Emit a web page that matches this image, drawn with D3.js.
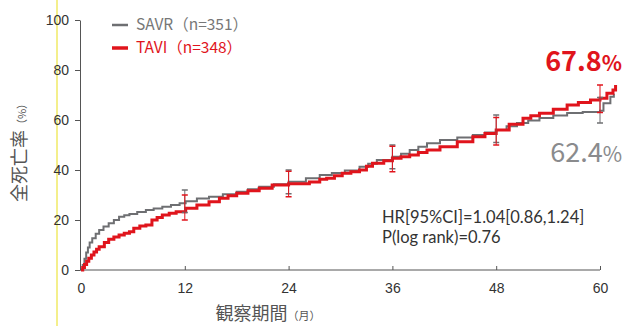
<!DOCTYPE html>
<html>
<head>
<meta charset="utf-8">
<script src="https://cdn.jsdelivr.net/npm/d3@7"></script>
<style>
  body { margin: 0; background: #fff; }
  svg { display: block; font-family: "Noto Sans CJK JP", "Noto Sans", sans-serif; }
  .axis path, .axis line { stroke: #555; stroke-width: 1; }
  .axis text { fill: #333; font-size: 14px; }
</style>
</head>
<body>
<svg width="625" height="326"></svg>
<script>
// Kaplan-Meier curves (months, %)
var savrMonths = [0, 0.2, 0.4, 0.6, 0.8, 1.0, 1.3, 1.7, 2.1, 2.6, 3.2, 3.8, 4.4, 5.0, 5.6, 6.5, 7.5, 8.4, 9.4, 10.4, 11.4, 12.1, 13.4, 14.8, 16.4, 18, 19.3, 20.6, 22.3, 24, 26, 27.6, 29, 30.5, 32.2, 33.2, 34.2, 36, 37, 38, 39, 40, 41.5, 43.5, 45.3, 46.7, 48, 49.2, 50.4, 51.7, 53, 54.6, 56.2, 58, 60, 60.4, 61.2, 61.6];
var savrValues = [0, 2, 4.5, 7, 9, 11, 12.7, 14.5, 16, 17.4, 18.7, 20, 21.3, 21.9, 22.4, 23.2, 24, 24.6, 25.3, 26, 26.7, 27.5, 28.6, 29.3, 30.3, 31.3, 32.3, 33.3, 34.3, 35.3, 36.7, 38, 38.8, 39.8, 41.3, 42.5, 44, 45.3, 46.5, 48, 49.3, 50.7, 52, 53, 54, 55, 56, 57.5, 58.8, 59.8, 60.8, 61.8, 62.8, 63.2, 63.7, 66.7, 69.3, 70.5];

var taviMonths = [0, 0.2, 0.4, 0.65, 0.9, 1.2, 1.5, 1.8, 2.1, 2.7, 3.2, 3.8, 4.4, 5.0, 5.6, 6.1, 6.8, 7.5, 8.2, 8.8, 9.4, 10.2, 11, 12.1, 13.4, 14.8, 16, 17, 18, 19.3, 20.6, 22.1, 24, 26.4, 27.6, 28.4, 29.3, 30.2, 31.2, 32.2, 33, 33.7, 35, 36, 37, 38, 39, 40, 41.5, 43.5, 45.3, 46.7, 48, 49.5, 51.1, 52, 53, 54.6, 56.2, 57.5, 58.9, 60, 60.8, 61.5, 61.8];
var taviValues = [0, 1, 2.2, 3.5, 4.7, 6, 7.2, 8.3, 9.3, 11, 12.3, 13.2, 14, 14.7, 15.3, 16.7, 17.6, 18, 20, 21, 22, 22.7, 23.3, 24.7, 26, 27.3, 28.7, 29.7, 30.7, 31.7, 32.7, 34, 34.5, 35.2, 36.3, 36.7, 37.7, 38.7, 39.3, 40, 41.5, 42.7, 43.7, 44.7, 45.3, 46, 47, 48, 49.3, 51.3, 53.3, 54.6, 56, 58.3, 60.7, 61.7, 62.7, 64.3, 66, 67, 68, 68.7, 70.7, 72, 74];

// confidence interval bars
var ciMonths = [12, 24, 36, 48, 60];
var savrLo = [23, 30.5, 40.5, 51, 58.8];
var savrHi = [32, 40, 50, 62, 69];
var taviLo = [20, 29.3, 39.3, 50, 63];
var taviHi = [30, 39.5, 49.5, 61, 74];

var xTicks = [0, 12, 24, 36, 48, 60];
var yTicks = [0, 20, 40, 60, 80, 100];

var legendLabels = ["SAVR（n=351）", "TAVI（n=348）"];
var endLabels = ["62.4", "67.8"];
var statLines = ["HR[95%CI]=1.04[0.86,1.24]", "P(log rank)=0.76"];

var grey = "#6e6f72", red = "#e0141c";

var svg = d3.select("svg");

// scan artefact: faint yellow rule at left
svg.append("line")
    .attr("x1", 57).attr("x2", 57).attr("y1", 0).attr("y2", 326)
    .attr("stroke", "#f4ef8c").attr("stroke-width", 2);

var xScale = d3.scaleLinear().domain([0, 60]).range([81, 600]),
    yScale = d3.scaleLinear().domain([0, 100]).range([270, 20]);

// axes
var xAxis = d3.axisBottom(xScale).tickValues(xTicks).tickSize(-4).tickPadding(13).tickSizeOuter(0);
var yAxis = d3.axisLeft(yScale).tickValues(yTicks).tickSize(5).tickPadding(6).tickSizeOuter(0);

var gx = svg.append("g").attr("class", "x axis")
    .attr("transform", "translate(0," + yScale(0) + ")")
    .call(xAxis);
gx.select(".domain").attr("d", "M80,0H600");
gx.selectAll(".tick").filter(d => d === 0).select("line").remove();

svg.append("g").attr("class", "y axis")
    .attr("transform", "translate(80,0)")
    .call(yAxis);

// axis titles
svg.append("text")
    .attr("transform", "translate(26,150) rotate(-90)")
    .attr("text-anchor", "middle")
    .attr("fill", "#555")
    .style("font-size", "18px")
    .html('全死亡率<tspan style="font-size:11px">（%）</tspan>');

svg.append("text")
    .attr("x", 268).attr("y", 320)
    .attr("text-anchor", "middle")
    .attr("fill", "#555")
    .style("font-size", "18px")
    .html('観察期間<tspan style="font-size:11px">（月）</tspan>');

// curves
var line = d3.line()
    .x(d => xScale(d[0]))
    .y(d => yScale(d[1]))
    .curve(d3.curveStepAfter);

svg.append("path")
    .datum(d3.zip(savrMonths, savrValues))
    .attr("fill", "none").attr("stroke", grey).attr("stroke-width", 2)
    .attr("d", line);

svg.append("path")
    .datum(d3.zip(taviMonths, taviValues))
    .attr("fill", "none").attr("stroke", red).attr("stroke-width", 3)
    .attr("d", line);

// CI bars
function ciBars(lo, hi, color) {
    var g = svg.append("g").attr("stroke", color).attr("stroke-width", 1);
    ciMonths.forEach(function(m, i) {
        var x = xScale(m);
        g.append("line").attr("x1", x).attr("x2", x).attr("y1", yScale(lo[i])).attr("y2", yScale(hi[i]));
        [lo[i], hi[i]].forEach(function(v) {
            g.append("line").attr("x1", x - 3).attr("x2", x + 3).attr("y1", yScale(v)).attr("y2", yScale(v)).attr("stroke-width", 1.5);
        });
    });
}
ciBars(savrLo, savrHi, grey);
ciBars(taviLo, taviHi, red);

// legend
var legend = svg.append("g");
[grey, red].forEach(function(c, i) {
    var y = 25 + i * 23;
    legend.append("line").attr("x1", 112).attr("x2", 128).attr("y1", y).attr("y2", y)
        .attr("stroke", c).attr("stroke-width", i ? 3.5 : 2.5);
    legend.append("text").attr("x", 136).attr("y", y + 5)
        .attr("fill", i ? red : "#777")
        .style("font-size", "15.5px")
        .text(legendLabels[i]);
});

// end labels
svg.append("text")
    .attr("x", 622).attr("y", 71).attr("text-anchor", "end")
    .attr("fill", red).style("font-size", "27px").style("font-weight", "bold")
    .html(endLabels[1] + '<tspan style="font-size:21px">%</tspan>');

svg.append("text")
    .attr("x", 622).attr("y", 162).attr("text-anchor", "end")
    .attr("fill", "#8a8b8d").style("font-size", "27px")
    .html(endLabels[0] + '<tspan style="font-size:21px">%</tspan>');

// statistics
statLines.forEach(function(s, i) {
    svg.append("text")
        .attr("x", 382).attr("y", 223 + i * 20)
        .attr("fill", "#333")
        .style("font-family", "Lato, sans-serif")
        .style("font-size", "16.5px")
        .text(s);
});
</script>
</body>
</html>
